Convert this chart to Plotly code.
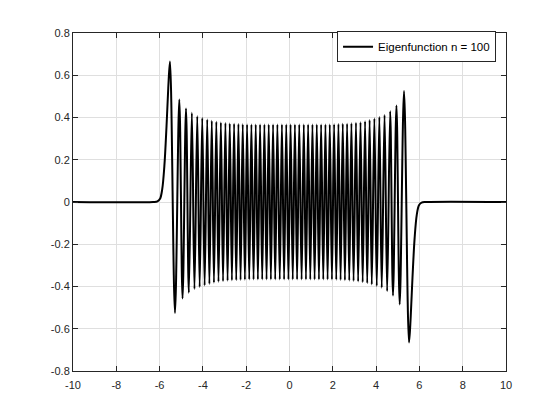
"""
Eigenfunction n = 100, drawn MATLAB style
"""
import plotly.graph_objs as go

# extrema of the oscillating part (left to right)
extrema_x = [
    -5.52, -5.29, -5.09, -4.94, -4.78, -4.65, -4.51, -4.39, -4.26, -4.15,
    -4.03, -3.92, -3.80, -3.70, -3.59, -3.49, -3.38, -3.28, -3.17, -3.07,
    -2.96, -2.86, -2.76, -2.66, -2.56, -2.46, -2.36, -2.26, -2.16, -2.06,
    -1.96, -1.86, -1.76, -1.66, -1.56, -1.46, -1.36, -1.26, -1.16, -1.06,
    -0.96, -0.86, -0.76, -0.66, -0.56, -0.45, -0.35, -0.25, -0.15, -0.05,
    0.05, 0.15, 0.25, 0.35, 0.45, 0.56, 0.66, 0.76, 0.86, 0.96,
    1.06, 1.16, 1.26, 1.36, 1.46, 1.56, 1.66, 1.76, 1.86, 1.96,
    2.06, 2.16, 2.26, 2.36, 2.46, 2.56, 2.66, 2.76, 2.86, 2.96,
    3.07, 3.17, 3.28, 3.38, 3.49, 3.59, 3.70, 3.80, 3.92, 4.03,
    4.15, 4.26, 4.39, 4.51, 4.65, 4.78, 4.94, 5.09, 5.29, 5.52,
]
extrema_y = [
    0.665, -0.525, 0.485, -0.457, 0.443, -0.430, 0.422, -0.412, 0.406, -0.402,
    0.398, -0.395, 0.391, -0.388, 0.385, -0.382, 0.380, -0.378, 0.376, -0.375,
    0.374, -0.373, 0.372, -0.371, 0.370, -0.370, 0.369, -0.369, 0.368, -0.368,
    0.367, -0.367, 0.367, -0.367, 0.367, -0.367, 0.367, -0.367, 0.367, -0.367,
    0.367, -0.367, 0.367, -0.367, 0.367, -0.367, 0.367, -0.367, 0.367, -0.367,
    0.367, -0.367, 0.367, -0.367, 0.367, -0.367, 0.367, -0.367, 0.367, -0.367,
    0.367, -0.367, 0.367, -0.367, 0.367, -0.367, 0.367, -0.367, 0.367, -0.367,
    0.368, -0.368, 0.369, -0.369, 0.370, -0.370, 0.371, -0.372, 0.373, -0.374,
    0.375, -0.376, 0.378, -0.380, 0.382, -0.385, 0.388, -0.391, 0.395, -0.398,
    0.402, -0.406, 0.412, -0.422, 0.430, -0.443, 0.457, -0.485, 0.525, -0.665,
]

# decaying tails outside the turning points
left_tail_x = [-10.0, -6.3, -6.1, -5.98, -5.88, -5.78, -5.68, -5.6]
left_tail_y = [0.0, 0.0, 0.003, 0.015, 0.06, 0.17, 0.36, 0.54]
right_tail_x = [5.6, 5.68, 5.78, 5.88, 5.98, 6.1, 6.3, 10.0]
right_tail_y = [-0.54, -0.36, -0.17, -0.06, -0.015, -0.003, 0.0, 0.0]

x_ticks = [-10, -8, -6, -4, -2, 0, 2, 4, 6, 8, 10]
y_ticks = [-0.8, -0.6, -0.4, -0.2, 0, 0.2, 0.4, 0.6, 0.8]
y_tick_text = ['-0.8', '-0.6', '-0.4', '-0.2', '0', '0.2', '0.4', '0.6', '0.8']
x_tick_text = ['-10', '-8', '-6', '-4', '-2', '0', '2', '4', '6', '8', '10']

xs = left_tail_x + extrema_x + right_tail_x
ys = left_tail_y + extrema_y + right_tail_y

data = [go.Scatter(
    x=xs, y=ys, mode='lines',
    line={'color': 'black', 'width': 2, 'shape': 'spline', 'smoothing': 1},
    name='Eigenfunction n = 100'
)]

axis_style = dict(
    showline=True, mirror='ticks', linecolor='#262626', linewidth=1,
    ticks='inside', ticklen=5, tickcolor='#262626',
    showgrid=True, gridcolor='#dfdfdf', gridwidth=1, zeroline=False,
    tickfont={'family': 'Liberation Sans, Arial', 'size': 11, 'color': '#262626'},
)

# page body has an 8px margin, so the plot box is pulled up and left by that
layout = go.Layout(
    width=560, height=420,
    paper_bgcolor='white', plot_bgcolor='white',
    margin={'l': 65, 'r': 62, 't': 25, 'b': 57},
    xaxis=dict(range=[-10, 10], tickvals=x_ticks, ticktext=x_tick_text,
               ticklabelstandoff=4, **axis_style),
    yaxis=dict(range=[-0.8, 0.8], tickvals=y_ticks, ticktext=y_tick_text, **axis_style),
    showlegend=True,
    legend={
        'x': 0.977, 'y': 1.005, 'xanchor': 'right', 'yanchor': 'top',
        'bgcolor': 'white', 'bordercolor': '#262626', 'borderwidth': 1,
        'font': {'family': 'Liberation Sans, Arial', 'size': 11.5, 'color': 'black'},
        'tracegroupgap': 0, 'itemwidth': 30,
    },
)

fig = go.Figure(data=data, layout=layout)
fig.write_html("out.html")
